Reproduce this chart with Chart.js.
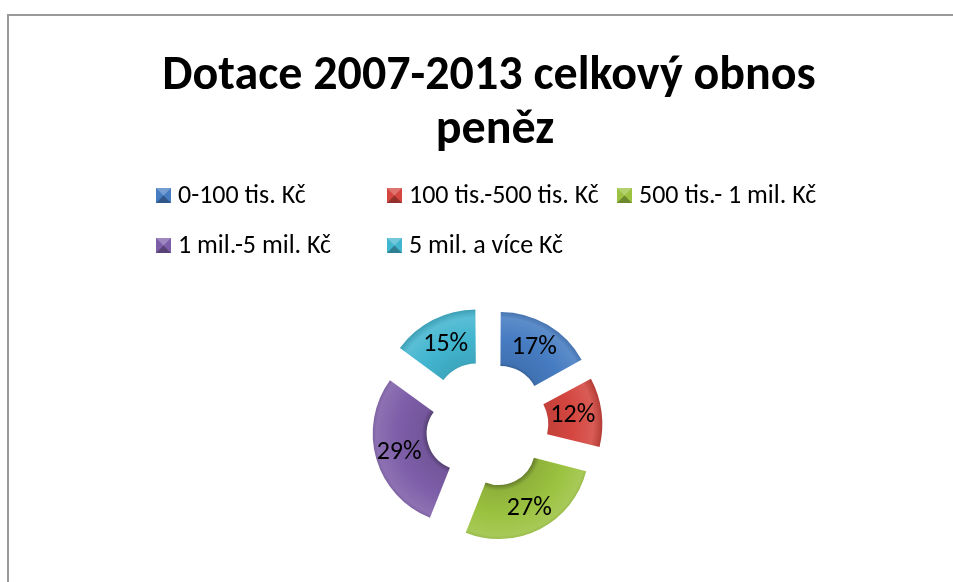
<!DOCTYPE html>
<html>
<head>
<meta charset="utf-8">
<script src="https://cdn.jsdelivr.net/npm/chart.js@4/dist/chart.umd.min.js"></script>
<style>
  body { margin: 0; background: #fff; }
  canvas { display: block; }
</style>
</head>
<body>
<canvas id="donutChart" width="953" height="582"></canvas>
<script>
// data
const categories = ['0-100 tis. Kč', '100 tis.-500 tis. Kč', '500 tis.- 1 mil. Kč', '1 mil.-5 mil. Kč', '5 mil. a více Kč']
const shares = [17, 12, 27, 29, 15]
const titleLines = ['Dotace 2007-2013 celkový obnos', 'peněz']
const sliceColors = ['#467CC2', '#D4463F', '#9BC240', '#7D5EA8', '#42B5CF']

const FONT = 'Carlito, Lato, sans-serif'

// lighten / darken a hex color, used for the bevel look
function shade(hex, amt)
{
    const n = parseInt(hex.slice(1), 16)
    const f = c => Math.max(0, Math.min(255, Math.round(amt < 0 ? c * (1 + amt) : c + (255 - c) * amt)))
    return `rgb(${f(n >> 16)}, ${f((n >> 8) & 255)}, ${f(n & 255)})`
}

// radial gradient so each ring piece looks a bit beveled
function bevelFill(context)
{
    const base = sliceColors[context.dataIndex]
    const chart = context.chart
    const area = chart.chartArea
    if (!area) return base
    const cx = (area.left + area.right) / 2
    const cy = (area.top + area.bottom) / 2
    const g = chart.ctx.createRadialGradient(cx, cy, 36, cx, cy, 96)
    g.addColorStop(0, shade(base, -0.35))
    g.addColorStop(0.1, shade(base, -0.08))
    g.addColorStop(0.5, base)
    g.addColorStop(0.85, shade(base, 0.12))
    g.addColorStop(1, shade(base, -0.15))
    return g
}

// title, frame and the grid-like legend of the original
const decorPlugin = {
    id: 'decor',
    beforeDraw(chart) {
        const ctx = chart.ctx
        ctx.save()
        ctx.strokeStyle = '#999'
        ctx.lineWidth = 2
        ctx.strokeRect(8, 15, 1000, 1000)

        ctx.fillStyle = '#000'
        ctx.textAlign = 'center'
        ctx.textBaseline = 'alphabetic'
        ctx.font = `bold 48px ${FONT}`
        ctx.fillText(titleLines[0], 489, 89)
        ctx.fillText(titleLines[1], 495, 143)

        const colX = [156, 387, 617]
        const rowY = [195, 245]
        ctx.font = `26px ${FONT}`
        ctx.textAlign = 'left'
        ctx.textBaseline = 'middle'
        categories.forEach((name, i) => {
            const x = colX[i % 3]
            const y = rowY[Math.floor(i / 3)]
            const c = sliceColors[i]
            const s = 15, bx = x, by = y - 7
            // little pyramid box
            ctx.fillStyle = c
            ctx.fillRect(bx, by, s, s)
            ctx.fillStyle = shade(c, 0.25)
            ctx.beginPath(); ctx.moveTo(bx, by); ctx.lineTo(bx + s, by); ctx.lineTo(bx + s / 2, by + s / 2); ctx.fill()
            ctx.fillStyle = shade(c, -0.3)
            ctx.beginPath(); ctx.moveTo(bx, by + s); ctx.lineTo(bx + s, by + s); ctx.lineTo(bx + s / 2, by + s / 2); ctx.fill()
            ctx.fillStyle = '#000'
            ctx.fillText(name, x + 22, y + 1)
        })
        ctx.restore()
    },
    afterDatasetsDraw(chart) {
        // percent labels in the middle of each exploded piece
        const ctx = chart.ctx
        const meta = chart.getDatasetMeta(0)
        ctx.save()
        ctx.font = `26px ${FONT}`
        ctx.fillStyle = '#000'
        ctx.textAlign = 'center'
        ctx.textBaseline = 'middle'
        meta.data.forEach((arc, i) => {
            // chart.js moves an arc by offset/4 along its middle angle
            const shift = arc.options.offset / 4
            const mid = (arc.startAngle + arc.endAngle) / 2
            const r = (arc.innerRadius + arc.outerRadius) / 2 + shift + 4
            ctx.fillText(shares[i] + '%', arc.x + Math.cos(mid) * r, arc.y + Math.sin(mid) * r)
        })
        ctx.restore()
    }
}

const donutChart = new Chart(document.getElementById('donutChart').getContext('2d'),
    {
        type: 'doughnut',
        data: {
            labels: categories,
            datasets: [
                {
                    data: shares,
                    backgroundColor: bevelFill,
                    borderWidth: 0,
                    offset: [100, 76, 100, 100, 100],
                    hoverOffset: 0
                }
            ]
        },
        options: {
            responsive: false,
            animation: false,
            radius: 90,
            cutout: '40%',
            layout: {
                padding: { top: 300, bottom: 29, left: 250, right: 228 }
            },
            plugins: {
                legend: { display: false },
                title: { display: false },
                tooltip: { enabled: false }
            }
        },
        plugins: [decorPlugin]
    })
</script>
</body>
</html>
